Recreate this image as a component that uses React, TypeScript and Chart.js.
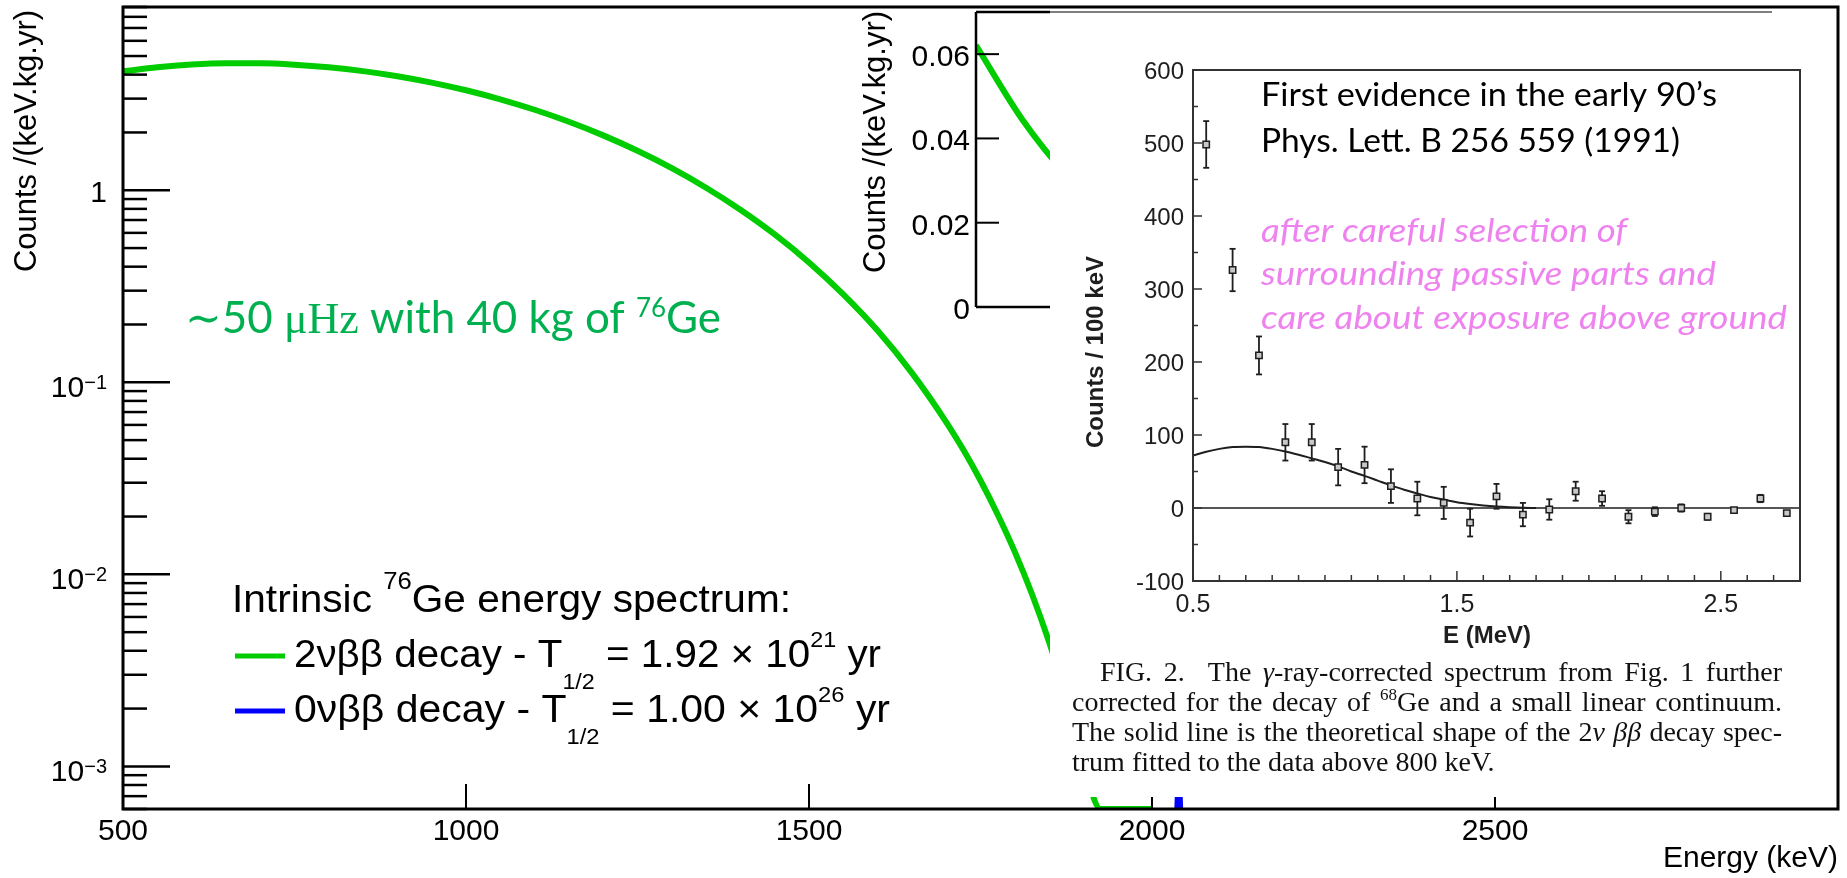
import React, { useEffect, useRef } from 'react';
import { Chart, registerables } from 'chart.js';

Chart.register(...registerables);

const W = 1847;
const H = 878;

/* ---------- intrinsic 76Ge spectrum ---------- */
// summed electron energy (keV) and 2νββ rate in counts/(keV.kg.yr)
const twoNuEnergy = [500, 550, 600, 650, 700, 750, 800, 850, 900, 950, 1000, 1050, 1100, 1150, 1200, 1250, 1300, 1350, 1400, 1450, 1500, 1550, 1600, 1650, 1700, 1725, 1750, 1775, 1800, 1825, 1850, 1875, 1900, 1925, 1950, 1975, 2000];
const twoNuRate = [4.161, 4.373, 4.515, 4.583, 4.58, 4.506, 4.369, 4.172, 3.925, 3.637, 3.317, 2.977, 2.626, 2.274, 1.931, 1.605, 1.304, 1.031, 0.792, 0.589, 0.421, 0.287, 0.186, 0.112, 0.0621, 0.0445, 0.0308, 0.0205, 0.0131, 0.0079, 0.00444, 0.00229, 0.00105, 4.06e-4, 1.23e-4, 2.47e-5, 2.2e-6];
// 0νββ line at Qββ = 2039 keV
const zeroNuEnergy = [2033, 2034, 2035, 2036, 2037, 2038, 2039, 2040, 2041, 2042, 2043, 2044, 2045];
const zeroNuRate = [1.5e-5, 1.3e-4, 7.5e-4, 2.9e-3, 7.8e-3, 1.4e-2, 1.7e-2, 1.4e-2, 7.8e-3, 2.9e-3, 7.5e-4, 1.3e-4, 1.5e-5];

const energyTicks = [500, 1000, 1500, 2000, 2500];
const rateDecades = [1e-3, 1e-2, 1e-1, 1];
const rateDecadeExp = ['−3', '−2', '−1', ''];
const rateAllDecades = [1e-4, 1e-3, 1e-2, 1e-1, 1];
const rateMinorSteps = [2, 3, 4, 5, 6, 7, 8, 9];
const insetTicks = [0, 0.02, 0.04, 0.06];
const insetTickLabels = ['0', '0.02', '0.04', '0.06'];

const legendNames = ['2νββ', '0νββ'];
const legendHalfLife = ['1.92', '1.00'];
const legendExponent = ['21', '26'];

/* ---------- 1991 measurement (Phys. Lett. B 256 559) ---------- */
const scanEnergy = [0.55, 0.65, 0.75, 0.85, 0.95, 1.05, 1.15, 1.25, 1.35, 1.45, 1.55, 1.65, 1.75, 1.85, 1.95, 2.05, 2.15, 2.25, 2.35, 2.45, 2.55, 2.65, 2.75];
const scanCounts = [498, 326, 209, 90, 90, 56, 59, 30, 13, 7, -20, 16, -9, -2, 23, 13, -12, -5, 0, -12, -3, 13, -7];
const scanErrors = [32, 29, 26, 25, 25, 25, 25, 23, 23, 22, 19, 17, 16, 14, 13, 10, 9, 6, 5, 4, 3, 5, 3];
const fitEnergy = [0.5, 0.55, 0.6, 0.65, 0.7, 0.75, 0.8, 0.85, 0.9, 0.95, 1.0, 1.05, 1.1, 1.15, 1.2, 1.25, 1.3, 1.35, 1.4, 1.45, 1.5, 1.55, 1.6, 1.65, 1.7, 1.75, 1.8];
const fitCounts = [72, 77, 81, 83.5, 84, 83.5, 81, 77.5, 73, 68, 63, 57, 50, 44, 37.5, 31, 25, 20, 15, 11.5, 8, 5.5, 3.5, 2, 1, 0.3, 0];
const scanCountTicks = [-100, 0, 100, 200, 300, 400, 500, 600];
const scanEnergyLabels = [0.5, 1.5, 2.5];

/* ---------- ranges, colours, layout ---------- */
const E_MIN = 500;
const E_MAX = 3000;
const RATE_MIN = 6e-4;
const RATE_MAX = 9;
const INSET_E_MIN = 1700;
const INSET_E_MAX = 2100;
const INSET_RATE_MAX = 0.07;
const SCAN_E_MIN = 0.5;
const SCAN_E_MAX = 2.8;
const SCAN_C_MIN = -100;
const SCAN_C_MAX = 600;

const GREEN = '#00cc00';
const BLUE = '#0000ff';
const TEXT_GREEN = '#00b050';
const PINK = '#ee82ee';
const INK = '#1e1e1e';

const MAIN = { left: 123, top: 7, right: 1838, bottom: 809 };
const INSET = { left: 976, top: 12, right: 1716, bottom: 307 };
const SCAN = { left: 1193, top: 70, right: 1800, bottom: 581 };
const PASTE = { left: 1050, top: 10, right: 1836, bottom: 797 };

const SANS = '"Liberation Sans", Arial, sans-serif';
const SERIF = '"Liberation Serif", "Times New Roman", serif';
const LATO = 'Lato, "Open Sans", sans-serif';
const font = (size: number, fam = SANS, style = '') => `${style} ${size}px ${fam}`.trim();

type Run = { t: string; f: string; dy?: number };

function runsWidth(ctx: CanvasRenderingContext2D, runs: Run[]) {
  let w = 0;
  for (const r of runs) {
    ctx.font = r.f;
    w += ctx.measureText(r.t).width;
  }
  return w;
}

// draws a row of styled text pieces; optionally stretched/squeezed to a width
function drawRuns(
  ctx: CanvasRenderingContext2D,
  runs: Run[],
  x: number,
  y: number,
  opts: { w?: number; align?: 'left' | 'center' | 'right'; color?: string; rot?: number } = {}
) {
  const nat = runsWidth(ctx, runs);
  const w = opts.w ?? nat;
  const sx = w / nat;
  ctx.save();
  ctx.translate(x, y);
  if (opts.rot) ctx.rotate(opts.rot);
  const off = opts.align === 'right' ? -w : opts.align === 'center' ? -w / 2 : 0;
  ctx.translate(off, 0);
  ctx.scale(sx, 1);
  ctx.fillStyle = opts.color ?? '#000';
  ctx.textAlign = 'left';
  ctx.textBaseline = 'alphabetic';
  let cx = 0;
  for (const r of runs) {
    ctx.font = r.f;
    ctx.fillText(r.t, cx, r.dy ?? 0);
    cx += ctx.measureText(r.t).width;
  }
  ctx.restore();
}

function drawJustified(ctx: CanvasRenderingContext2D, words: Run[][], x: number, y: number, w: number, color: string) {
  const ws = words.map((wd) => runsWidth(ctx, wd));
  const total = ws.reduce((a, b) => a + b, 0);
  const gap = (w - total) / (words.length - 1);
  let cx = x;
  words.forEach((wd, i) => {
    drawRuns(ctx, wd, cx, y, { color });
    cx += ws[i] + gap;
  });
}

function seg(ctx: CanvasRenderingContext2D, x1: number, y1: number, x2: number, y2: number) {
  ctx.beginPath();
  ctx.moveTo(x1, y1);
  ctx.lineTo(x2, y2);
  ctx.stroke();
}

/* ---------- main log-scale spectrum ---------- */
const mainDecor = {
  id: 'mainDecor',
  afterDraw(chart: any) {
    const { ctx, chartArea: a } = chart;
    const xs = chart.scales.x;
    const ys = chart.scales.y;
    ctx.save();
    ctx.strokeStyle = '#000';
    ctx.lineCap = 'butt';

    // y ticks (decades long, 2..9 short)
    ctx.lineWidth = 2.5;
    rateAllDecades.forEach((d) => {
      [1, ...rateMinorSteps].forEach((m) => {
        const v = m * d;
        if (v < RATE_MIN * 0.999 || v > RATE_MAX * 1.001) return;
        const py = ys.getPixelForValue(v);
        seg(ctx, a.left, py, a.left + (m === 1 ? 47 : 24), py);
      });
    });
    // x ticks
    ctx.lineWidth = 2;
    energyTicks.forEach((e) => {
      const px = xs.getPixelForValue(e);
      seg(ctx, px, a.bottom, px, a.bottom - 25);
    });
    // frame
    ctx.lineWidth = 3;
    ctx.strokeRect(a.left, a.top, a.right - a.left, a.bottom - a.top);

    // tick labels
    energyTicks.forEach((e) => {
      drawRuns(ctx, [{ t: String(e), f: font(30) }], xs.getPixelForValue(e), 840, { align: 'center' });
    });
    rateDecades.forEach((d, i) => {
      const py = ys.getPixelForValue(d);
      if (rateDecadeExp[i]) {
        drawRuns(ctx, [{ t: '10', f: font(30) }, { t: rateDecadeExp[i], f: font(20), dy: -8 }], 107, py + 15, { align: 'right' });
      } else {
        drawRuns(ctx, [{ t: '1', f: font(30) }], 107, py + 12, { align: 'right' });
      }
    });

    // axis titles
    drawRuns(ctx, [{ t: 'Counts /(keV.kg.yr)', f: font(31) }], 36, 141, { align: 'center', rot: -Math.PI / 2, w: 262 });
    drawRuns(ctx, [{ t: 'Energy (keV)', f: font(30) }], a.right, 867, { align: 'right', w: 175 });

    // legend
    drawRuns(
      ctx,
      [
        { t: 'Intrinsic ', f: font(38) },
        { t: '76', f: font(24), dy: -23 },
        { t: 'Ge energy spectrum:', f: font(38) },
      ],
      232,
      612,
      { w: 559 }
    );
    const legendColors = [GREEN, BLUE];
    const legendWidths = [587, 596];
    legendNames.forEach((name, i) => {
      const by = 667 + i * 55;
      ctx.strokeStyle = legendColors[i];
      ctx.lineWidth = 5;
      seg(ctx, 235, by - 11, 285, by - 11);
      drawRuns(
        ctx,
        [
          { t: `${name} decay - T`, f: font(38) },
          { t: '1/2', f: font(22), dy: 22 },
          { t: ` = ${legendHalfLife[i]} × 10`, f: font(38) },
          { t: legendExponent[i], f: font(22), dy: -20 },
          { t: ' yr', f: font(38) },
        ],
        294,
        by,
        { w: legendWidths[i] }
      );
    });

    // rate note
    drawRuns(
      ctx,
      [
        { t: '∼', f: font(44, '"DejaVu Serif", serif') },
        { t: '50 ', f: font(44, LATO) },
        { t: 'μHz', f: font(44, SERIF) },
        { t: ' with 40 kg of ', f: font(44, LATO) },
        { t: '76', f: font(26, LATO), dy: -16 },
        { t: 'Ge', f: font(44, LATO) },
      ],
      185,
      333,
      { w: 536, color: TEXT_GREEN }
    );
    ctx.restore();
  },
};

function makeMain(canvas: HTMLCanvasElement) {
  return new Chart(canvas, {
    type: 'line',
    data: {
      datasets: [
        {
          label: '2νββ',
          data: twoNuEnergy.map((e, i) => ({ x: e, y: Math.max(twoNuRate[i], RATE_MIN) })),
          borderColor: GREEN,
          borderWidth: 6,
          pointRadius: 0,
          cubicInterpolationMode: 'monotone',
          fill: false,
        },
        {
          label: '0νββ',
          data: zeroNuEnergy.map((e, i) => ({ x: e, y: Math.max(zeroNuRate[i], RATE_MIN) })),
          borderColor: BLUE,
          backgroundColor: BLUE,
          borderWidth: 2,
          pointRadius: 0,
          fill: 'start',
        },
      ],
    },
    options: {
      responsive: false,
      animation: false,
      devicePixelRatio: 1,
      events: [],
      layout: { padding: { left: MAIN.left, top: MAIN.top, right: W - MAIN.right, bottom: H - MAIN.bottom } },
      scales: {
        x: { type: 'linear', min: E_MIN, max: E_MAX, display: false },
        y: { type: 'logarithmic', min: RATE_MIN, max: RATE_MAX, display: false },
      },
      plugins: { legend: { display: false }, tooltip: { enabled: false } },
    },
    plugins: [mainDecor],
  } as any);
}

/* ---------- linear inset near the endpoint ---------- */
const insetDecor = {
  id: 'insetDecor',
  afterDraw(chart: any) {
    const { ctx, chartArea: a } = chart;
    const ys = chart.scales.y;
    ctx.save();
    ctx.strokeStyle = '#000';
    ctx.lineWidth = 2;
    insetTicks.forEach((v, i) => {
      const py = ys.getPixelForValue(v);
      seg(ctx, a.left, py, a.left + 23, py);
      drawRuns(ctx, [{ t: insetTickLabels[i], f: font(30) }], 970, py + 12, { align: 'right' });
    });
    ctx.lineWidth = 2.5;
    seg(ctx, a.left, a.top, a.left, a.bottom);
    seg(ctx, a.left, a.top, a.right, a.top);
    seg(ctx, a.left, a.bottom, a.right, a.bottom);
    drawRuns(ctx, [{ t: 'Counts /(keV.kg.yr)', f: font(31) }], 885, 142, { align: 'center', rot: -Math.PI / 2, w: 262 });
    ctx.restore();
  },
};

function makeInset(canvas: HTMLCanvasElement) {
  const pts = twoNuEnergy
    .map((e, i) => ({ x: e, y: twoNuRate[i] }))
    .filter((p) => p.x >= INSET_E_MIN && p.x <= INSET_E_MAX);
  return new Chart(canvas, {
    type: 'line',
    data: {
      datasets: [
        { data: pts, borderColor: GREEN, borderWidth: 6, pointRadius: 0, cubicInterpolationMode: 'monotone', fill: false },
      ],
    },
    options: {
      responsive: false,
      animation: false,
      devicePixelRatio: 1,
      events: [],
      layout: { padding: { left: INSET.left, top: INSET.top, right: W - INSET.right, bottom: H - INSET.bottom } },
      scales: {
        x: { type: 'linear', min: INSET_E_MIN, max: INSET_E_MAX, display: false },
        y: { type: 'linear', min: 0, max: INSET_RATE_MAX, display: false },
      },
      plugins: { legend: { display: false }, tooltip: { enabled: false } },
    },
    plugins: [insetDecor],
  } as any);
}

/* ---------- 1991 spectrum with caption ---------- */
const CAP_R = font(28, SERIF);
const CAP_I = font(28, SERIF, 'italic');
const CAP_S = font(17, SERIF);
const word = (t: string): Run[] => [{ t, f: CAP_R }];
const captionLines: { x: number; y: number; words: Run[][]; justify: boolean }[] = [
  {
    x: 1100,
    y: 681,
    justify: true,
    words: [
      ...['FIG.', '2.', '', 'The'].map(word),
      [{ t: 'γ', f: CAP_I }, { t: '-ray-corrected', f: CAP_R }],
      ...['spectrum', 'from', 'Fig.', '1', 'further'].map(word),
    ],
  },
  {
    x: 1072,
    y: 711,
    justify: true,
    words: [
      ...['corrected', 'for', 'the', 'decay', 'of'].map(word),
      [{ t: '68', f: CAP_S, dy: -11 }, { t: 'Ge', f: CAP_R }],
      ...['and', 'a', 'small', 'linear', 'continuum.'].map(word),
    ],
  },
  {
    x: 1072,
    y: 741,
    justify: true,
    words: [
      ...['The', 'solid', 'line', 'is', 'the', 'theoretical', 'shape', 'of', 'the'].map(word),
      [{ t: '2', f: CAP_R }, { t: 'ν', f: CAP_I }],
      [{ t: 'ββ', f: CAP_I }],
      ...['decay', 'spec-'].map(word),
    ],
  },
  {
    x: 1072,
    y: 771,
    justify: false,
    words: [word('trum fitted to the data above 800 keV.')],
  },
];
const CAPTION_RIGHT = 1782;

const scanDecor = {
  id: 'scanDecor',
  beforeDraw(chart: any) {
    const { ctx } = chart;
    ctx.save();
    ctx.fillStyle = '#fff';
    ctx.fillRect(PASTE.left, PASTE.top, PASTE.right - PASTE.left, PASTE.bottom - PASTE.top);
    ctx.strokeStyle = '#555';
    ctx.lineWidth = 1.5;
    seg(ctx, PASTE.left, 12, 1772, 12);
    ctx.restore();
  },
  beforeDatasetsDraw(chart: any) {
    const { ctx } = chart;
    const xs = chart.scales.x;
    const ys = chart.scales.y;
    ctx.save();
    ctx.strokeStyle = INK;
    ctx.lineWidth = 1.8;
    scanEnergy.forEach((e, i) => {
      const px = xs.getPixelForValue(e);
      const y1 = ys.getPixelForValue(scanCounts[i] + scanErrors[i]);
      const y2 = ys.getPixelForValue(scanCounts[i] - scanErrors[i]);
      seg(ctx, px, y1, px, y2);
      seg(ctx, px - 3, y1, px + 3, y1);
      seg(ctx, px - 3, y2, px + 3, y2);
    });
    ctx.restore();
  },
  afterDraw(chart: any) {
    const { ctx, chartArea: a } = chart;
    const xs = chart.scales.x;
    const ys = chart.scales.y;
    ctx.save();
    ctx.strokeStyle = '#333';
    ctx.lineWidth = 2;
    ctx.strokeRect(a.left, a.top, a.right - a.left, a.bottom - a.top);

    // ticks: every 50 counts, every 0.1 MeV
    ctx.lineWidth = 1.5;
    for (let c = SCAN_C_MIN; c <= SCAN_C_MAX; c += 50) {
      const py = ys.getPixelForValue(c);
      seg(ctx, a.left, py, a.left + (c % 100 === 0 ? 9 : 5), py);
    }
    for (let k = 5; k <= 28; k++) {
      const px = xs.getPixelForValue(k / 10);
      seg(ctx, px, a.bottom, px, a.bottom - ((k - 5) % 10 === 0 ? 10 : 6));
    }

    scanCountTicks.forEach((c) => {
      drawRuns(ctx, [{ t: String(c), f: font(24) }], 1184, ys.getPixelForValue(c) + 8.5, { align: 'right', color: INK });
    });
    scanEnergyLabels.forEach((e) => {
      drawRuns(ctx, [{ t: e.toFixed(1), f: font(25) }], xs.getPixelForValue(e), 612, { align: 'center', color: INK });
    });
    drawRuns(ctx, [{ t: 'E (MeV)', f: font(24, SANS, 'bold') }], 1487, 643, { align: 'center', color: INK });
    drawRuns(ctx, [{ t: 'Counts / 100 keV', f: font(24, SANS, 'bold') }], 1103, 352, {
      align: 'center',
      rot: -Math.PI / 2,
      color: INK,
    });

    // caption
    captionLines.forEach((ln) => {
      if (ln.justify) drawJustified(ctx, ln.words, ln.x, ln.y, CAPTION_RIGHT - ln.x, '#111');
      else drawRuns(ctx, ln.words[0], ln.x, ln.y, { color: '#111' });
    });

    // notes
    drawRuns(ctx, [{ t: 'First evidence in the early 90’s', f: font(33, LATO) }], 1261, 106, { w: 456, color: '#000' });
    drawRuns(ctx, [{ t: 'Phys. Lett. B 256 559 (1991)', f: font(33, LATO) }], 1261, 152, { w: 419, color: '#000' });
    drawRuns(ctx, [{ t: 'after careful selection of', f: font(33, LATO, 'italic') }], 1261, 242, { w: 366, color: PINK });
    drawRuns(ctx, [{ t: 'surrounding passive parts and', f: font(33, LATO, 'italic') }], 1261, 285, { w: 455, color: PINK });
    drawRuns(ctx, [{ t: 'care about exposure above ground', f: font(33, LATO, 'italic') }], 1261, 329, { w: 526, color: PINK });
    ctx.restore();
  },
};

function makeScan(canvas: HTMLCanvasElement) {
  return new Chart(canvas, {
    type: 'scatter',
    data: {
      datasets: [
        {
          data: scanEnergy.map((e, i) => ({ x: e, y: scanCounts[i] })),
          pointStyle: 'rect',
          pointRadius: 4.5,
          backgroundColor: '#c8c8c8',
          borderColor: INK,
          borderWidth: 1.5,
          showLine: false,
        },
        {
          data: fitEnergy.map((e, i) => ({ x: e, y: fitCounts[i] })),
          showLine: true,
          pointRadius: 0,
          borderColor: INK,
          borderWidth: 2,
          cubicInterpolationMode: 'monotone',
        },
        {
          data: [
            { x: SCAN_E_MIN, y: 0 },
            { x: SCAN_E_MAX, y: 0 },
          ],
          showLine: true,
          pointRadius: 0,
          borderColor: INK,
          borderWidth: 1.6,
        },
      ],
    },
    options: {
      responsive: false,
      animation: false,
      devicePixelRatio: 1,
      events: [],
      layout: { padding: { left: SCAN.left, top: SCAN.top, right: W - SCAN.right, bottom: H - SCAN.bottom } },
      scales: {
        x: { type: 'linear', min: SCAN_E_MIN, max: SCAN_E_MAX, display: false },
        y: { type: 'linear', min: SCAN_C_MIN, max: SCAN_C_MAX, display: false },
      },
      plugins: { legend: { display: false }, tooltip: { enabled: false } },
    },
    plugins: [scanDecor],
  } as any);
}

export default function App() {
  const mainRef = useRef<HTMLCanvasElement>(null);
  const insetRef = useRef<HTMLCanvasElement>(null);
  const scanRef = useRef<HTMLCanvasElement>(null);

  useEffect(() => {
    document.body.style.margin = '0';
    const charts = [makeMain(mainRef.current!), makeInset(insetRef.current!), makeScan(scanRef.current!)];
    let alive = true;
    const specs = [
      font(30),
      font(24, SANS, 'bold'),
      font(28, SERIF),
      font(28, SERIF, 'italic'),
      font(33, LATO),
      font(33, LATO, 'italic'),
      font(44, '"DejaVu Serif"'),
    ];
    Promise.all(specs.map((s) => (document as any).fonts.load(s)))
      .catch(() => null)
      .then(() => {
        if (alive) charts.forEach((c) => c.draw());
      });
    return () => {
      alive = false;
      charts.forEach((c) => c.destroy());
    };
  }, []);

  const layer: React.CSSProperties = { position: 'absolute', left: 0, top: 0, width: W, height: H };
  return (
    <div style={{ position: 'relative', width: W, height: H, background: '#fff', overflow: 'hidden' }}>
      <canvas ref={mainRef} width={W} height={H} style={layer} />
      <canvas ref={insetRef} width={W} height={H} style={layer} />
      <canvas ref={scanRef} width={W} height={H} style={layer} />
    </div>
  );
}
